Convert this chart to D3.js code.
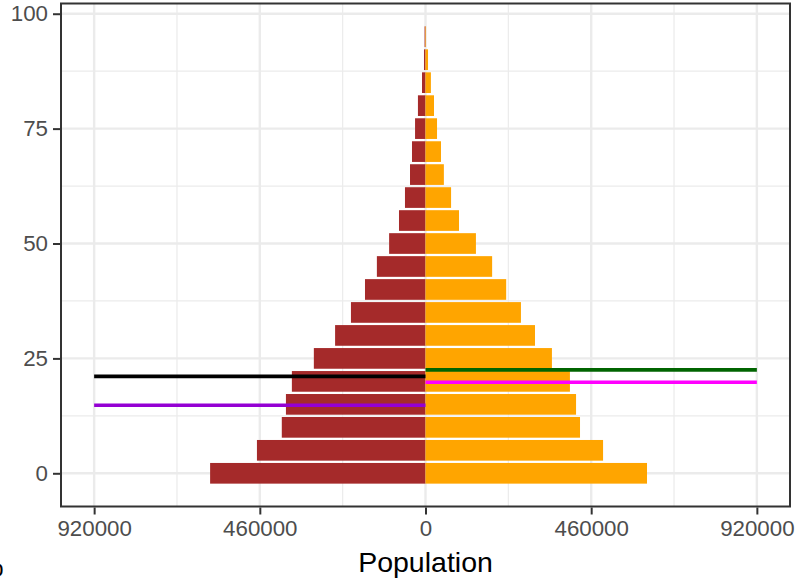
<!DOCTYPE html>
<html>
<head>
<meta charset="utf-8">
<script src="https://cdn.jsdelivr.net/npm/d3@7"></script>
<style>
  html, body { margin: 0; padding: 0; background: #fff; }
  svg { display: block; }
  text { font-family: "Liberation Sans", Arial, Helvetica, sans-serif; }
</style>
</head>
<body>
<svg id="chart" width="798" height="581"></svg>
<script>
// ---- data ----
const ages = [0, 5, 10, 15, 20, 25, 30, 35, 40, 45, 50, 55, 60, 65, 70, 75, 80, 85, 90, 95];
const male = [598000, 468000, 399000, 387500, 371000, 310000, 251000, 207000, 168000, 135000,
              101000, 73600, 57000, 43000, 37500, 29000, 21000, 9700, 4200, 2500];
const female = [615000, 493000, 429000, 418000, 401000, 351000, 304000, 265000, 224000, 185000,
                140000, 93000, 71000, 51000, 43000, 32000, 23600, 15000, 7000, 1500];
const xTicks = [-920000, -460000, 0, 460000, 920000];
const yTicks = [0, 25, 50, 75, 100];
const refLines = [
  { side: "left",  age: 21.1, color: "#000000" },
  { side: "left",  age: 14.8, color: "#9400D3" },
  { side: "right", age: 22.5, color: "#006400" },
  { side: "right", age: 19.8, color: "#FF00FF" }
];
const xLabel = "Population";
const tag = "b";

// ---- layout ----
const svg = d3.select("#chart");
const P = { left: 61, right: 790, top: 3.5, bottom: 506.5 };
const barW = 4.5;
const xLim = 920000 * 1.1;
const x = d3.scaleLinear().domain([-xLim, xLim]).range([P.left, P.right]);
const yLo = -barW / 2, yHi = 95 + barW / 2, yExp = (yHi - yLo) * 0.05;
const y = d3.scaleLinear().domain([yLo - yExp, yHi + yExp]).range([P.bottom, P.top]);

const g = svg.append("g");
// grid minor
const xMinor = [-690000, -230000, 230000, 690000];
const yMinor = [12.5, 37.5, 62.5, 87.5];
g.selectAll(".xmin").data(xMinor).join("line")
  .attr("x1", d => x(d)).attr("x2", d => x(d)).attr("y1", P.top).attr("y2", P.bottom)
  .attr("stroke", "#EBEBEB").attr("stroke-width", 1.2);
g.selectAll(".ymin").data(yMinor).join("line")
  .attr("y1", d => y(d)).attr("y2", d => y(d)).attr("x1", P.left).attr("x2", P.right)
  .attr("stroke", "#EBEBEB").attr("stroke-width", 1.2);
// grid major
g.selectAll(".xmaj").data(xTicks).join("line")
  .attr("x1", d => x(d)).attr("x2", d => x(d)).attr("y1", P.top).attr("y2", P.bottom)
  .attr("stroke", "#EBEBEB").attr("stroke-width", 2.4);
g.selectAll(".ymaj").data(yTicks).join("line")
  .attr("y1", d => y(d)).attr("y2", d => y(d)).attr("x1", P.left).attr("x2", P.right)
  .attr("stroke", "#EBEBEB").attr("stroke-width", 2.4);

// bars
const bh = Math.abs(y(0) - y(barW));
g.selectAll(".m").data(ages).join("rect")
  .attr("x", (d, i) => x(-male[i])).attr("width", (d, i) => x(0) - x(-male[i]))
  .attr("y", d => y(d + barW / 2)).attr("height", bh).attr("fill", "#A52A2A");
g.selectAll(".f").data(ages).join("rect")
  .attr("x", x(0)).attr("width", (d, i) => x(female[i]) - x(0))
  .attr("y", d => y(d + barW / 2)).attr("height", bh).attr("fill", "#FFA500");

// reference lines
g.selectAll(".ref").data(refLines).join("line")
  .attr("x1", d => d.side === "left" ? x(-920000) : x(0))
  .attr("x2", d => d.side === "left" ? x(0) : x(920000))
  .attr("y1", d => y(d.age)).attr("y2", d => y(d.age))
  .attr("stroke", d => d.color).attr("stroke-width", 3.6);

// panel border
g.append("rect").attr("x", P.left).attr("y", P.top)
  .attr("width", P.right - P.left).attr("height", P.bottom - P.top)
  .attr("fill", "none").attr("stroke", "#333333").attr("stroke-width", 2);

// axes
const xAxis = d3.axisBottom(x).tickValues(xTicks).tickFormat(d => String(Math.abs(d))).tickSize(7).tickPadding(6);
const yAxis = d3.axisLeft(y).tickValues(yTicks).tickSize(7).tickPadding(5);
const gx = svg.append("g").attr("transform", `translate(0,${P.bottom + 1})`).call(xAxis);
const gy = svg.append("g").attr("transform", `translate(${P.left - 1},0)`).call(yAxis);
[gx, gy].forEach(a => {
  a.select(".domain").remove();
  a.selectAll(".tick line").attr("stroke", "#333333").attr("stroke-width", 2);
  a.selectAll(".tick text").attr("fill", "#4D4D4D").style("font-size", "22.3px");
});

// axis title
svg.append("text").attr("x", x(0)).attr("y", 572).attr("text-anchor", "middle")
  .style("font-size", "28.5px").attr("fill", "#000").text(xLabel);

// tag, clipped at the left edge as in the reference
svg.append("text").attr("x", 3.5).attr("y", 576).attr("text-anchor", "end")
  .style("font-size", "22px").attr("fill", "#000").text(tag);
</script>
</body>
</html>
